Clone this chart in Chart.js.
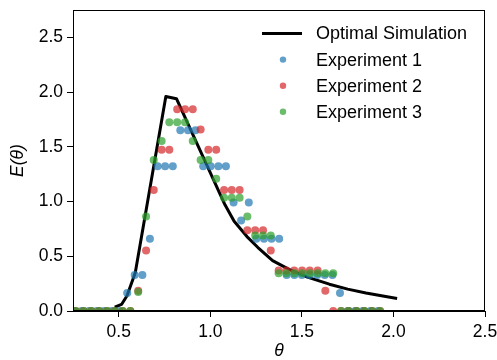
<!DOCTYPE html>
<html>
<head>
<meta charset="utf-8">
<script src="https://cdn.jsdelivr.net/npm/chart.js@4.4.1/dist/chart.umd.min.js"></script>
<style>
  html, body { margin: 0; padding: 0; background: #fff; }
  #wrap { width: 497px; height: 360px; }
</style>
</head>
<body>
<div id="wrap"><canvas id="c" width="497" height="360"></canvas></div>
<script>
// ---- Data ----
const simTheta = [0.478, 0.515, 0.545, 0.59, 0.757, 0.815, 1.08, 1.13, 1.20, 1.26, 1.34, 1.43, 1.53, 1.65, 1.75, 1.85, 1.95, 2.02];
const simE     = [0.035, 0.06, 0.14, 0.35, 1.96, 1.94, 0.97, 0.82, 0.68, 0.58, 0.46, 0.38, 0.31, 0.245, 0.20, 0.165, 0.135, 0.115];

const exp1Theta = [0.255, 0.297, 0.338, 0.380, 0.421, 0.463, 0.504, 0.546, 0.587, 0.629, 0.670, 0.712, 0.753, 0.795,
                   0.836, 0.878, 0.919, 0.961, 1.002, 1.044, 1.085, 1.127, 1.168, 1.210, 1.251, 1.293, 1.334, 1.376,
                   1.417, 1.459, 1.500, 1.542, 1.584, 1.625, 1.667, 1.708, 1.750, 1.791, 1.833, 1.874, 1.916];
const exp1E     = [0, 0, 0, 0, 0, 0, 0, 0.165, 0.330, 0.330, 0.661, 1.322, 1.322, 1.322,
                   1.652, 1.652, 1.652, 1.322, 1.322, 1.322, 1.322, 0.991, 0.826, 0.991, 0.661, 0.661, 0.661, 0.661,
                   0.330, 0.330, 0.330, 0.330, 0.330, 0.330, 0.330, 0.165, 0, 0, 0, 0, 0];

const exp2Theta = [0.265, 0.308, 0.350, 0.393, 0.436, 0.478, 0.521, 0.563, 0.606, 0.649, 0.691, 0.734, 0.776, 0.819,
                   0.862, 0.904, 0.947, 0.989, 1.032, 1.075, 1.117, 1.160, 1.202, 1.245, 1.288, 1.330, 1.373, 1.415,
                   1.458, 1.501, 1.543, 1.586, 1.628, 1.671, 1.714, 1.756, 1.799, 1.841, 1.884, 1.927];
const exp2E     = [0, 0, 0, 0, 0, 0, 0, 0, 0.184, 0.553, 1.106, 1.474, 1.474, 1.843,
                   1.843, 1.843, 1.659, 1.474, 1.474, 1.106, 1.106, 1.106, 0.737, 0.737, 0.737, 0.553, 0.369, 0.369,
                   0.369, 0.369, 0.369, 0.369, 0.184, 0, 0, 0, 0, 0, 0, 0];

const exp3Theta = exp2Theta.slice();
const exp3E     = [0, 0, 0, 0, 0, 0, 0, 0, 0.173, 0.863, 1.380, 1.553, 1.725, 1.725,
                   1.725, 1.553, 1.380, 1.380, 1.208, 1.035, 1.035, 1.035, 0.863, 0.690, 0.690, 0.690, 0.345, 0.345,
                   0.345, 0.345, 0.345, 0.345, 0.345, 0.345, 0, 0, 0, 0, 0, 0];

const xTicks = [0.5, 1.0, 1.5, 2.0, 2.5];
const yTicks = [0.0, 0.5, 1.0, 1.5, 2.0, 2.5];
const seriesLabels = ['Optimal Simulation', 'Experiment 1', 'Experiment 2', 'Experiment 3'];

// ---- Build chart ----
const pts = (xs, ys) => xs.map((x, i) => ({ x: x, y: ys[i] }));
const FONT = 'Liberation Sans, Arial, Helvetica, sans-serif';
Chart.defaults.color = '#000';
Chart.defaults.font.family = FONT;

const C_BLUE = 'rgba(31,119,180,0.70)';
const C_RED = 'rgba(214,39,40,0.70)';
const C_GREEN = 'rgba(44,160,44,0.70)';

const frame = {
  id: 'frame',
  afterDatasetsDraw(chart) {
    const a = chart.chartArea, ctx = chart.ctx;
    ctx.save();
    ctx.strokeStyle = '#000';
    ctx.lineWidth = 1;
    ctx.strokeRect(Math.round(a.left) + 0.5, Math.round(a.top) + 0.5,
                   Math.round(a.right - a.left) - 1, Math.round(a.bottom - a.top) - 1);
    ctx.restore();
  }
};

const legendPlugin = {
  id: 'mplLegend',
  afterDraw(chart) {
    const a = chart.chartArea, ctx = chart.ctx;
    const x0 = a.right - 223;
    ctx.save();
    ctx.font = '18px ' + FONT;
    ctx.textBaseline = 'middle';
    ctx.textAlign = 'left';
    chart.data.datasets.forEach((ds, i) => {
      const y = a.top + 23.5 + i * 26.1;
      if (ds.type === 'line') {
        ctx.strokeStyle = ds.borderColor;
        ctx.lineWidth = 3;
        ctx.beginPath();
        ctx.moveTo(x0, y);
        ctx.lineTo(x0 + 40, y);
        ctx.stroke();
      } else {
        ctx.fillStyle = ds.backgroundColor;
        ctx.beginPath();
        ctx.arc(x0 + 21, y, 3.2, 0, Math.PI * 2);
        ctx.fill();
      }
      ctx.fillStyle = '#000';
      ctx.fillText(ds.label, x0 + 54, y + 1);
    });
    ctx.restore();
  }
};

new Chart(document.getElementById('c'), {
  type: 'scatter',
  data: {
    datasets: [
      { type: 'line', label: seriesLabels[0], data: pts(simTheta, simE), borderColor: '#000', borderWidth: 3,
        pointRadius: 0, tension: 0, fill: false, order: 4, borderJoinStyle: 'round' },
      { label: seriesLabels[1], data: pts(exp1Theta, exp1E), backgroundColor: C_BLUE, borderWidth: 0, pointRadius: 4, order: 3, clip: 0 },
      { label: seriesLabels[2], data: pts(exp2Theta, exp2E), backgroundColor: C_RED, borderWidth: 0, pointRadius: 4, order: 2, clip: 0 },
      { label: seriesLabels[3], data: pts(exp3Theta, exp3E), backgroundColor: C_GREEN, borderWidth: 0, pointRadius: 4, order: 1, clip: 0 }
    ]
  },
  options: {
    responsive: false,
    animation: false,
    devicePixelRatio: 1,
    layout: { padding: { left: 0, right: 12, top: 10, bottom: 0 } },
    plugins: { legend: { display: false }, tooltip: { enabled: false } },
    scales: {
      x: {
        type: 'linear', min: 0.25, max: 2.5,
        afterBuildTicks: s => { s.ticks = xTicks.map(v => ({ value: v })); },
        afterFit: s => { s.height = 49; s.paddingLeft = 0; s.paddingRight = 0; },
        ticks: { font: { size: 17.5 }, padding: 4.5, callback: v => v.toFixed(1), maxRotation: 0 },
        grid: { drawOnChartArea: false, drawTicks: true, tickLength: 6, tickColor: '#000', tickWidth: 1 },
        border: { display: true, color: '#000', width: 1 },
        title: { display: true, text: 'θ', font: { size: 17.5, style: 'italic', lineHeight: 1.0 }, padding: { top: 0, bottom: 0 } }
      },
      y: {
        type: 'linear', min: 0, max: 2.75,
        afterBuildTicks: s => { s.ticks = yTicks.map(v => ({ value: v })); },
        afterFit: s => { s.width = 73; s.paddingTop = 0; s.paddingBottom = 0; },
        ticks: { font: { size: 17.5 }, padding: 4, callback: v => v.toFixed(1) },
        grid: { drawOnChartArea: false, drawTicks: true, tickLength: 6, tickColor: '#000', tickWidth: 1 },
        border: { display: true, color: '#000', width: 1 },
        title: { display: true, text: 'E(θ)', font: { size: 17.5, style: 'italic' }, padding: { top: 8, bottom: 0 } }
      }
    }
  },
  plugins: [frame, legendPlugin]
});
</script>
</body>
</html>
